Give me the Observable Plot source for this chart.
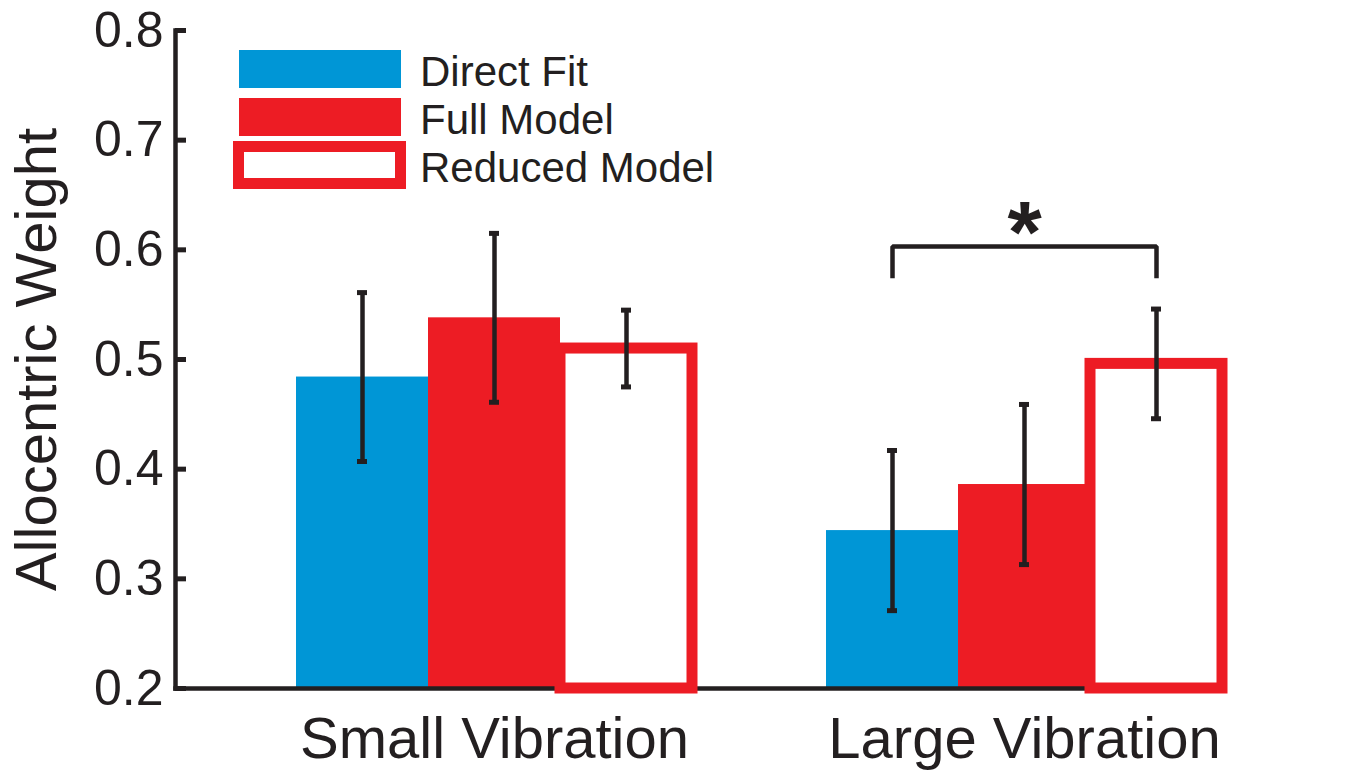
<!DOCTYPE html>
<html>
<head>
<meta charset="utf-8">
<script src="https://cdn.jsdelivr.net/npm/d3@7"></script>
<script src="https://cdn.jsdelivr.net/npm/@observablehq/plot@0.6"></script>
<style>
  html, body { margin: 0; padding: 0; background: #fff; }
  #chart { width: 1345px; height: 772px; }
  #chart svg { font-family: "Liberation Sans", Arial, Helvetica, sans-serif; }
  g[aria-label="y-axis label"] { font-size: 58px; }
</style>
</head>
<body>
<div id="chart"></div>
<script>
// Conditions and model estimates (mean allocentric weight with its error)
const groups = ["Small Vibration", "Large Vibration"];
const series = ["Direct Fit", "Full Model", "Reduced Model"];

const directFit = [0.484, 0.344];
const directFitErr = [0.077, 0.073];
const fullModel = [0.538, 0.386];
const fullModelErr = [0.077, 0.073];
const reducedModel = [0.510, 0.496];
const reducedModelErr = [0.035, 0.050];

const yTicks = [0.2, 0.3, 0.4, 0.5, 0.6, 0.7, 0.8];

// Significance annotation between Direct Fit and Reduced Model, large vibration
const sigGroup = "Large Vibration";
const sigFrom = "Direct Fit";
const sigTo = "Reduced Model";
const sigLevel = 0.603;
const sigDrop = 0.574;
const sigLabel = "*";

const ink = "#231f20";
const palette = ["#0096d6", "#ed1c24", "#ed1c24"];

const means = [directFit, fullModel, reducedModel];
const errs = [directFitErr, fullModelErr, reducedModelErr];
const rows = groups.flatMap((g, gi) =>
  series.map((s, si) => ({group: g, series: s, value: means[si][gi], err: errs[si][gi]}))
);
const filled = rows.filter(d => d.series !== "Reduced Model");
const outlined = rows.filter(d => d.series === "Reduced Model");
const floor = yTicks[0];

const bracket = [
  {group: sigGroup, series: sigFrom, y: sigDrop},
  {group: sigGroup, series: sigFrom, y: sigLevel},
  {group: sigGroup, series: sigTo, y: sigLevel},
  {group: sigGroup, series: sigTo, y: sigDrop}
];

const plot = Plot.plot({
  width: 1345,
  height: 772,
  marginLeft: 175,
  marginRight: 5,
  marginTop: 30,
  marginBottom: 84,
  style: {background: "#fff", color: ink},
  fx: {domain: groups, paddingInner: 0.02415, paddingOuter: 0.11113, align: 0, axis: null, label: null},
  x: {domain: series, paddingInner: 0, paddingOuter: 0.4517, align: 1, axis: null, label: null},
  y: {domain: [yTicks[0], yTicks[yTicks.length - 1]]},
  color: {domain: series, range: palette},
  marks: [
    Plot.barY(filled, {fx: "group", x: "series", y1: () => floor, y2: "value", fill: "series"}),
    Plot.frame({anchor: "bottom", facet: "super", stroke: ink, strokeWidth: 4.5}),
    Plot.frame({anchor: "left", facet: "super", stroke: ink, strokeWidth: 4.5}),
    Plot.barY(outlined, {fx: "group", x: "series", y1: () => floor, y2: "value", fill: "#fff", stroke: "series", strokeWidth: 11}),
    Plot.ruleX(rows, {fx: "group", x: "series", y1: d => d.value - d.err, y2: d => d.value + d.err, stroke: ink, strokeWidth: 4.5}),
    Plot.tickY(rows, {fx: "group", x: "series", y: d => d.value - d.err, stroke: ink, strokeWidth: 5, insetLeft: 61, insetRight: 61}),
    Plot.tickY(rows, {fx: "group", x: "series", y: d => d.value + d.err, stroke: ink, strokeWidth: 5, insetLeft: 61, insetRight: 61}),
    Plot.line(bracket, {fx: "group", x: "series", y: "y", stroke: ink, strokeWidth: 4.5, strokeLinejoin: "miter", strokeLinecap: "butt"}),
    Plot.text([sigLabel], {fx: () => sigGroup, x: () => series[1], y: () => sigLevel, text: d => d, fontSize: 88, fontWeight: "bold", lineAnchor: "bottom", dy: 15, fill: ink}),
    Plot.text(groups, {fx: d => d, x: () => series[1], text: d => d, frameAnchor: "bottom", lineAnchor: "top", dy: 28, fontSize: 58, fill: ink}),
    Plot.axisY(yTicks, {
      tickSize: -11, tickPadding: 23, strokeWidth: 5, fontSize: 50,
      tickFormat: d3.format(".1f"),
      label: "Allocentric Weight", labelAnchor: "center", labelArrow: "none", labelOffset: 161
    })
  ]
});

document.getElementById("chart").appendChild(plot);

// Legend drawn inside the plot area, top left
const color = plot.scale("color");
const svg = d3.select(plot);
const legend = svg.append("g").attr("aria-label", "legend").attr("text-anchor", "start");
series.forEach((s, i) => {
  const c = color.range[i];
  const top = 50 + i * 48;
  if (s === "Reduced Model") {
    legend.append("rect")
      .attr("x", 238.5).attr("y", top + 0.5).attr("width", 162).attr("height", 37)
      .attr("fill", "#fff").attr("stroke", c).attr("stroke-width", 11);
  } else {
    legend.append("rect")
      .attr("x", 239).attr("y", top).attr("width", 162).attr("height", 38)
      .attr("fill", c);
  }
  legend.append("text")
    .attr("x", 420).attr("y", top + 36)
    .attr("font-size", 42).attr("fill", ink)
    .text(s);
});
</script>
</body>
</html>
